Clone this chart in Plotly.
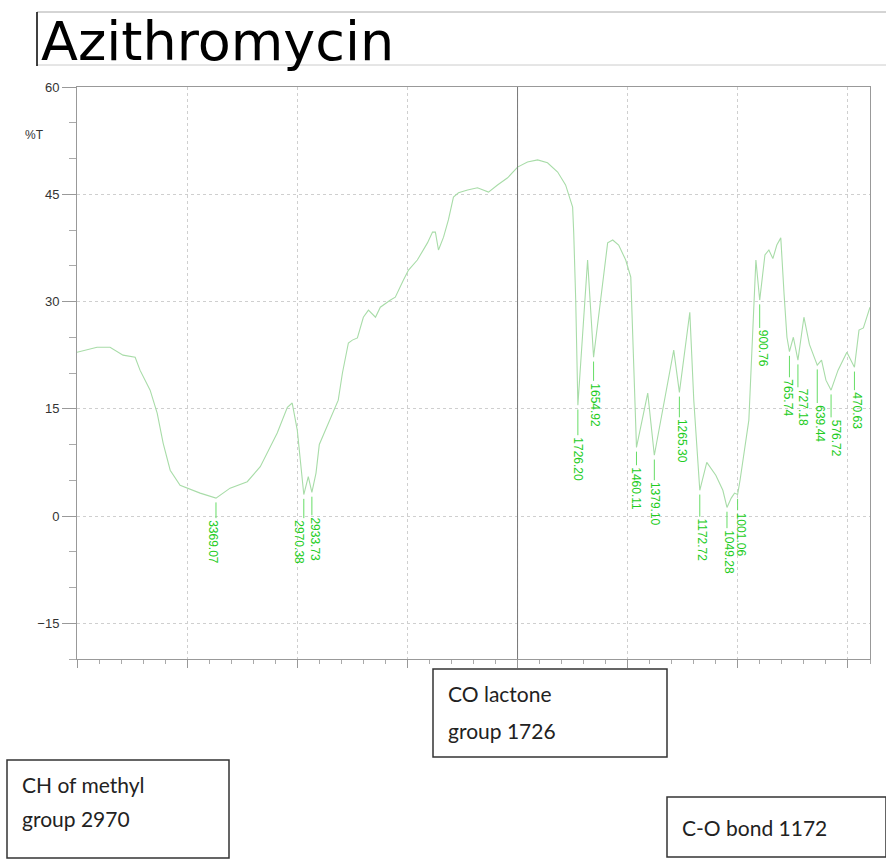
import plotly.graph_objects as go

# ---------------- data ----------------
wavenumber = [4000, 3909, 3850, 3791, 3736, 3714, 3668, 3636, 3609, 3577, 3532, 3500,
              3441, 3369.07, 3350, 3305, 3227, 3168, 3091, 3045, 3023, 3000, 2970.38,
              2950, 2933.73, 2915, 2900, 2814, 2795, 2768, 2750, 2727, 2700, 2677, 2645,
              2623, 2577, 2555, 2518, 2495, 2455, 2409, 2386, 2373, 2359, 2336, 2314,
              2291, 2268, 2227, 2182, 2155, 2132, 2091, 2045, 2000, 1955, 1909, 1864,
              1818, 1782, 1750, 1745, 1736, 1726.20, 1682, 1654.92, 1591, 1568, 1541,
              1509, 1486, 1460.11, 1409, 1379.10, 1291, 1265.30, 1218, 1200, 1172.72,
              1141, 1100, 1068, 1049.28, 1030, 1015, 1001.06, 990, 950, 932, 918,
              900.76, 877, 859, 841, 823, 805, 790, 777, 765.74, 748, 727.18, 700, 675,
              639.44, 620, 600, 576.72, 545, 505, 470.63, 450, 430, 400]
transmittance = [22.9, 23.6, 23.6, 22.5, 22.2, 20.4, 17.6, 14.4, 10.2, 6.4, 4.3, 3.9,
                 3.2, 2.5, 2.9, 3.9, 4.8, 6.9, 11.6, 15.2, 15.8, 12.0, 3.0,
                 5.5, 3.3, 6.0, 10.0, 16.2, 20.0, 24.2, 24.6, 24.9, 27.8, 28.8, 27.8,
                 29.2, 30.2, 30.6, 33.0, 34.4, 35.8, 38.2, 39.7, 39.7, 37.2, 39.0, 41.4,
                 44.6, 45.2, 45.6, 45.9, 45.6, 45.3, 46.3, 47.3, 48.8, 49.5, 49.8, 49.4,
                 48.1, 46.3, 43.2, 39.6, 30.2, 15.5, 35.8, 22.2, 38.2, 38.6, 37.9,
                 35.8, 33.4, 9.6, 17.2, 8.5, 23.2, 17.3, 28.5, 16.2, 3.6,
                 7.5, 5.7, 3.6, 1.2, 2.5, 3.2, 3.0, 5.0, 13.4, 26.0, 35.8,
                 30.2, 36.5, 37.2, 36.0, 37.9, 38.9, 31.0, 25.0, 23.0, 25.0, 21.8, 27.8, 24.0,
                 21.1, 21.8, 19.0, 17.6, 20.4, 22.9, 20.8, 26.0, 26.3, 29.2]

peak_wn = [3369.07, 2970.38, 2933.73, 1726.20, 1654.92, 1460.11, 1379.10, 1265.30,
           1172.72, 1049.28, 1001.06, 900.76, 765.74, 727.18, 639.44, 576.72, 470.63]
peak_t = [2.5, 3.0, 3.3, 15.5, 22.2, 9.6, 8.5, 17.3, 3.6, 1.2, 3.0, 30.2, 23.0, 21.8,
          21.1, 17.6, 20.8]
label_top = [-0.3, -0.3, 0.1, 11.3, 18.9, 7.1, 5.0, 13.8, -0.1, -1.7, 0.8, 26.3, 19.4,
             18.0, 15.8, 13.8, 17.6]
peak_labels = ["3369.07", "2970.38", "2933.73", "1726.20", "1654.92", "1460.11",
               "1379.10", "1265.30", "1172.72", "1049.28", "1001.06", "900.76",
               "765.74", "727.18", "639.44", "576.72", "470.63"]
# small horizontal nudges (px) so crowded peak labels sit side by side
label_nudge = [-3, -5, 3, 0, 2, 0, 0, 2, 2, 2, 3, 3, -1, 5, 3, 5, 3]

y_ticks = [-15, 0, 15, 30, 45, 60]
title_text = "Azithromycin"
y_unit = "%T"
note_lines = [["CO lactone", "group 1726"], ["CH of methyl", "group 2970"],
              ["C-O bond 1172"]]

# ---------------- layout geometry (pixels) ----------------
W, H = 886, 859
L, R, T, B = 77, 16, 87, 200
pw, ph = W - L - R, H - T - B

def px(x):
    return (x - L) / pw

def py(y):
    return (H - B - y) / ph

note_boxes = [(433, 669, 667, 757), (7, 760, 229, 858), (667, 797, 886, 857)]
note_first_line = [693, 784, 827]
note_line_gap = [37, 34, 0]

fig = go.Figure()

fig.add_trace(go.Scatter(x=wavenumber, y=transmittance, mode="lines",
                         line=dict(color="#a8dca8", width=1.1), hoverinfo="skip",
                         showlegend=False))

lx, ly = [], []
for w, p, t in zip(peak_wn, peak_t, label_top):
    lx += [w, w, None]
    ly += [p - 0.6, t, None]
fig.add_trace(go.Scatter(x=lx, y=ly, mode="lines",
                         line=dict(color="#66dd66", width=1), hoverinfo="skip",
                         showlegend=False))

annotations = []
for w, t, s, n in zip(peak_wn, label_top, peak_labels, label_nudge):
    annotations.append(dict(x=w, y=t, xref="x", yref="y", text=s, showarrow=False,
                            textangle=90, yanchor="top", xanchor="center", xshift=n,
                            font=dict(family="Liberation Sans, Arial",
                                      size=12, color="#22cc22")))

annotations.append(dict(x=px(46), y=py(135), xref="paper", yref="paper", text=y_unit,
                        showarrow=False, xanchor="right", yanchor="middle",
                        font=dict(family="Liberation Sans, Arial", size=12, color="#333")))

annotations.append(dict(x=px(39), y=py(75), xref="paper", yref="paper", text=title_text,
                        showarrow=False, xanchor="left", yanchor="bottom",
                        font=dict(family="DejaVu Sans", size=54, color="#000")))

shapes = []
shapes.append(dict(type="line", xref="paper", yref="paper", x0=px(37), x1=px(886),
                   y0=py(12), y1=py(12), line=dict(color="#aaaaaa", width=1)))
shapes.append(dict(type="line", xref="paper", yref="paper", x0=px(37), x1=px(886),
                   y0=py(65), y1=py(65), line=dict(color="#cccccc", width=1)))
shapes.append(dict(type="line", xref="paper", yref="paper", x0=px(37), x1=px(37),
                   y0=py(12), y1=py(66), line=dict(color="#000", width=1.5)))
shapes.append(dict(type="line", xref="x", yref="paper", x0=2000, x1=2000, y0=0, y1=1,
                   line=dict(color="#777777", width=1)))

for lines, (x0, y0, x1, y1), yl, gap in zip(note_lines, note_boxes, note_first_line,
                                            note_line_gap):
    shapes.append(dict(type="rect", xref="paper", yref="paper", x0=px(x0), x1=px(x1),
                       y0=py(y0), y1=py(y1), line=dict(color="#333", width=1.5),
                       fillcolor="rgba(0,0,0,0)"))
    for i, ln in enumerate(lines):
        annotations.append(dict(x=px(x0 + 13), y=py(yl + i * gap), xref="paper",
                                yref="paper", text=ln, showarrow=False,
                                xanchor="left", yanchor="middle",
                                font=dict(family="Lato, Open Sans", size=21,
                                          color="#222")))

fig.update_layout(
    width=W, height=H, margin=dict(l=L, r=R, t=T, b=B, autoexpand=False),
    paper_bgcolor="white", plot_bgcolor="white",
    shapes=shapes, annotations=annotations, showlegend=False,
    xaxis=dict(range=[4000, 400], showticklabels=False, tickmode="linear", tick0=500,
               dtick=500, ticks="outside", ticklen=8, tickcolor="#999",
               showgrid=True, gridcolor="#cfcfcf", griddash="dot", gridwidth=1,
               showline=True, linecolor="#999", mirror=True, zeroline=False,
               minor=dict(dtick=100, tick0=0, ticks="outside", ticklen=4,
                          tickcolor="#aaa", showgrid=False)),
    yaxis=dict(range=[-20, 60], tickmode="array", tickvals=y_ticks,
               ticks="outside", ticklen=14, tickcolor="#999",
               showgrid=True, gridcolor="#cfcfcf", griddash="dot", gridwidth=1,
               showline=True, linecolor="#999", mirror=True, zeroline=False,
               tickfont=dict(family="Liberation Sans, Arial", size=13, color="#333"),
               minor=dict(dtick=5, tick0=0, ticks="outside", ticklen=7,
                          tickcolor="#aaa", showgrid=False)),
)

fig.write_html("out.html", config={"displayModeBar": False},
               post_script="document.body.style.margin='0';")
